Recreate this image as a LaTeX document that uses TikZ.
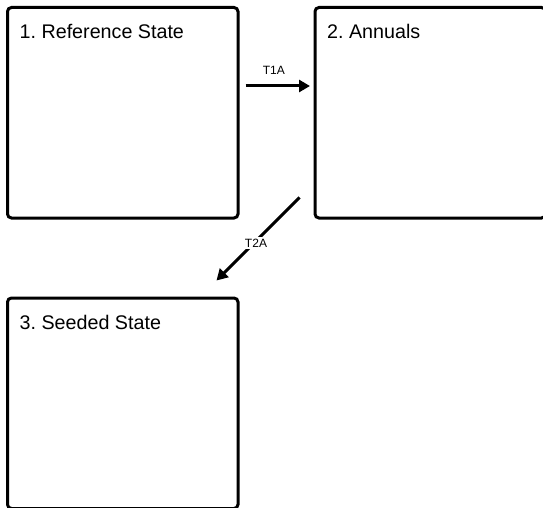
\documentclass[tikz,border=0pt]{standalone}
\usepackage{fontspec}
\setmainfont{Liberation Sans}
\usetikzlibrary{arrows.meta}
\frenchspacing

\tikzset{
  statebox/.style={draw=black, line width=3pt, rounded corners=4pt,
                   minimum width=230.5pt, minimum height=210.5pt, inner sep=0pt},
  statename/.style={anchor=base west, inner sep=0pt, font=\fontsize{19.7}{23}\selectfont},
  trans/.style={line width=3pt, -{Triangle[length=11pt,width=12pt]}},
  translabel/.style={font=\fontsize{12}{14}\selectfont, inner sep=1.5pt}
}

\begin{document}
\begin{tikzpicture}[x=1pt, y=1pt]
            \useasboundingbox (0,0) rectangle (543,507);
            \clip (0,0) rectangle (543,507);
            % states
            \node[statebox] (ref)  at (122.75, 394.25) {};
            \node[statebox] (ann)  at (430.25, 394.25) {};
            \node[statebox] (seed) at (122.75, 103.75) {};
            \node[statename] (refname)  at ([xshift=13.5pt, yshift=-32.5pt]ref.north west)  {1. Reference State};
            \node[statename] (annname)  at ([xshift=13.5pt, yshift=-32.5pt]ann.north west)  {2. Annuals};
            \node[statename] (seedname) at ([xshift=13.5pt, yshift=-32.5pt]seed.north west) {3. Seeded State};
            % transitions
            \coordinate (t1a start) at ([xshift=6pt,  yshift=26.75pt]ref.east);
            \coordinate (t1a end)   at ([xshift=-3.5pt, yshift=26.75pt]ann.west);
            \coordinate (t2a start) at ([xshift=-14pt, yshift=22pt]ann.south west);
            \coordinate (t2a end)   at ([xshift=-23pt, yshift=16pt]seed.north east);
            \draw[trans] (t1a start) -- (t1a end)
                 node[translabel, midway, above=8pt, xshift=-4pt] (t1a) {T1A};
            \draw[trans] (t2a start) -- (t2a end)
                 node[translabel, midway, fill=white, xshift=-2pt, yshift=-4pt] (t2a) {T2A};
        \end{tikzpicture}
\end{document}
